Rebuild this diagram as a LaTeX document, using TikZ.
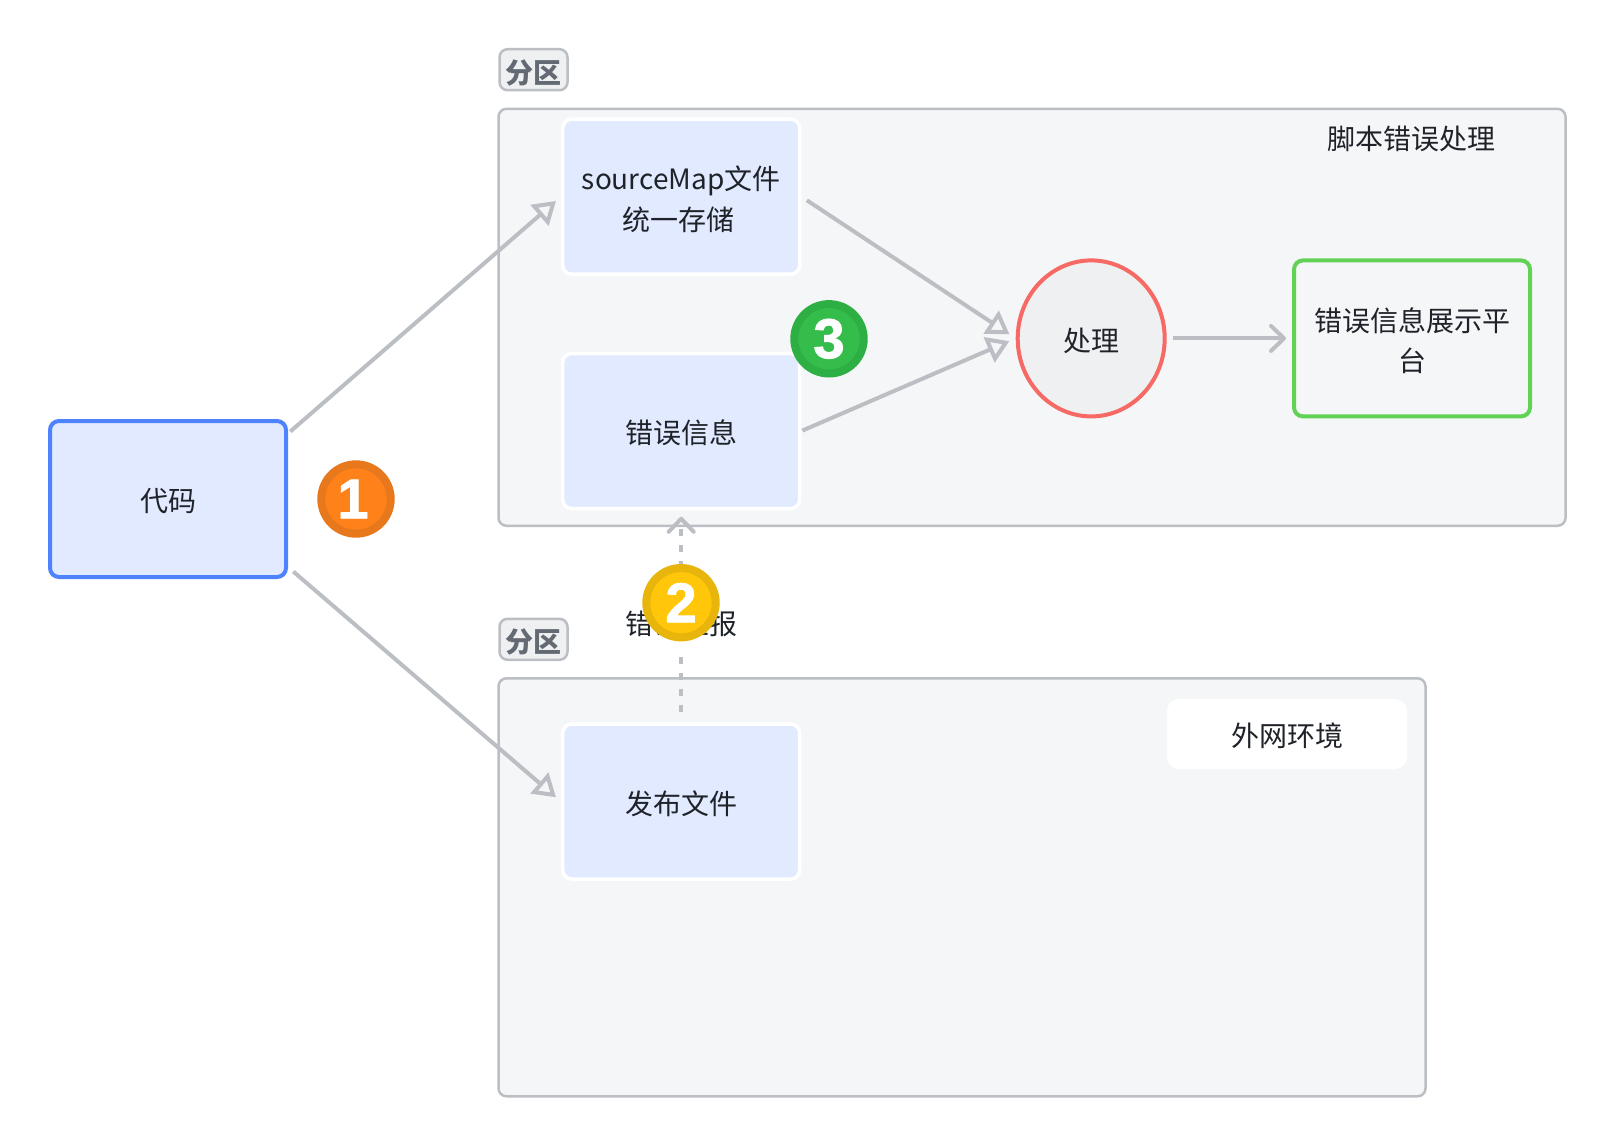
\documentclass[tikz,border=0pt]{standalone}
\usepackage{fontspec}
\setmainfont{Noto Sans CJK SC}
\newfontfamily\digitfont[FakeBold=1.6]{Liberation Sans}
\usetikzlibrary{positioning,arrows.meta,shapes.geometric}
\definecolor{ink}{HTML}{1F2329}
\definecolor{edgegray}{HTML}{BBBFC4}
\definecolor{zonefill}{HTML}{F5F6F7}
\definecolor{tagfill}{HTML}{EFF0F1}
\definecolor{tagink}{HTML}{646A73}
\definecolor{boxfill}{HTML}{E1EAFF}
\definecolor{codeblue}{HTML}{4E83FD}
\definecolor{procred}{HTML}{F76964}
\definecolor{showgreen}{HTML}{62D256}
\definecolor{orangein}{HTML}{FF811A}
\definecolor{orangeout}{HTML}{E8781C}
\definecolor{yellowin}{HTML}{FFC60A}
\definecolor{yellowout}{HTML}{E8B50C}
\definecolor{greenin}{HTML}{35BD4B}
\definecolor{greenout}{HTML}{2EAF44}
\newcommand{\lift}{\rule{0pt}{28.5pt}}
\tikzset{
every node/.style={font=\fontsize{28}{40.5}\selectfont, text=ink, align=center, inner sep=0pt, execute at begin node={\rule{0pt}{28pt}}},
zone/.style={draw=edgegray, fill=zonefill, line width=2.5pt, rounded corners=8pt},
zonetag/.style={draw=edgegray, fill=tagfill, line width=2.5pt, rounded corners=8pt, minimum width=68pt, minimum height=41pt, font=\fontsize{28}{41}\selectfont\bfseries, text=tagink, execute at begin node={\rule{0pt}{30pt}}},
task/.style={draw=white, fill=boxfill, line width=3.5pt, rounded corners=9pt, minimum width=237pt, minimum height=155pt},
badge/.style 2 args={circle, fill=#1, draw=#2, line width=8pt, minimum size=69.4pt, text=white, font=\fontsize{56}{56}\digitfont\bfseries, execute at begin node={}},
hollow/.style={draw=edgegray, line width=4pt, -{Triangle[open, length=22pt, width=27pt]}},
barb/.style={draw=edgegray, line width=4pt, -{Straight Barb[length=13pt, width=25pt, round]}}
}
\begin{document}
\begin{tikzpicture}[x=1pt, y=-1pt]
	\useasboundingbox (0,0) rectangle (1616,1146);

	\node[zone, minimum width=1067pt, minimum height=417pt] (upzone) at (1032,317.3) {};
	\node[zone, minimum width=927pt, minimum height=418pt] (downzone) at (962,887.3) {};
	\node[zonetag] (uptag) at (533.5,69.7) {分区};
	\node[zonetag] (downtag) at (533.5,639.3) {分区};
	\node (uptitle) at (1411,137) {脚本错误处理};
	\node[fill=white, rounded corners=12pt, minimum width=240pt, minimum height=70pt] (downtitle) at (1287,734) {外网环境};

	\node[task, draw=codeblue, line width=4pt, minimum width=236pt, minimum height=156pt] (code) at (168,499) {代码};
	\node[task] (source) at (681.2,196.7) {\lift sourceMap文件\\统一存储\hspace*{6pt}};
	\node[task] (error) at (681.2,431) {错误信息};
	\node[task] (release) at (681.2,801.5) {发布文件};
	\node[ellipse, draw=procred, fill=tagfill, line width=4pt, minimum width=147pt, minimum height=156pt] (process) at (1091.2,338.4) {处理};
	\node[draw=showgreen, fill=zonefill, line width=4pt, rounded corners=9pt, minimum width=236pt, minimum height=156pt] (display) at (1412,338.4) {\lift 错误信息展示平\\台};

	\draw[hollow, shorten <=3pt, shorten >=6.5pt] ([yshift=-14.5pt]code.north east) -- (source.west);
	\draw[hollow, shorten <=7pt, shorten >=6.5pt] ([yshift=12pt]code.south east) -- (release.west);
	\draw[hollow, shorten <=6.5pt, shorten >=7.5pt] (source.east) -- (process.west);
	\draw[hollow, shorten <=1pt, shorten >=7pt] (error.east) -- (process.west);
	\draw[barb, shorten <=6pt, shorten >=6pt] (process.east) -- (display.west);
	\draw[barb, dash pattern=on 7pt off 9pt, shorten <=10.5pt, shorten >=6.5pt] (release.north) -- (error.south);

	\node[fill=white, minimum width=112pt, minimum height=52pt] (report) at (681,622) {错误上报};

	\node[badge={orangein}{orangeout}] (one) at (356,499) {\hspace*{-6pt}1};
	\node[badge={yellowin}{yellowout}] (two) at (681,602.7) {2};
	\node[badge={greenin}{greenout}] (three) at (829,338.8) {3};
\end{tikzpicture}
\end{document}
